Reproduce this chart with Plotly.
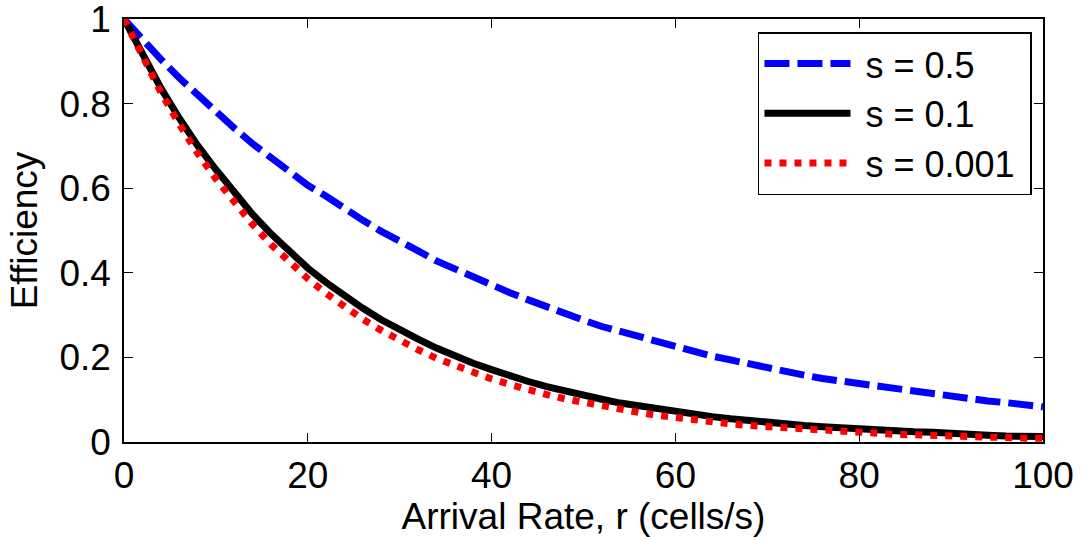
import plotly.graph_objects as go

r = list(range(0, 101, 2))

eff_s05 = [1.000, 0.951, 0.905, 0.861, 0.821, 0.779, 0.742, 0.705, 0.672, 0.638,
           0.607, 0.581, 0.551, 0.524, 0.498, 0.473, 0.452, 0.428, 0.409, 0.389,
           0.369, 0.353, 0.336, 0.319, 0.302, 0.288, 0.273, 0.261, 0.247, 0.235,
           0.225, 0.213, 0.203, 0.194, 0.184, 0.175, 0.167, 0.158, 0.150, 0.144,
           0.137, 0.131, 0.124, 0.118, 0.112, 0.106, 0.101, 0.097, 0.093, 0.088,
           0.083]

eff_s01 = [1.000, 0.914, 0.837, 0.766, 0.701, 0.644, 0.589, 0.538, 0.492, 0.450,
           0.411, 0.377, 0.345, 0.316, 0.289, 0.265, 0.243, 0.222, 0.203, 0.186,
           0.171, 0.156, 0.143, 0.131, 0.120, 0.110, 0.101, 0.092, 0.085, 0.078,
           0.071, 0.066, 0.060, 0.055, 0.050, 0.046, 0.042, 0.039, 0.036, 0.033,
           0.030, 0.028, 0.026, 0.024, 0.023, 0.022, 0.020, 0.016, 0.014, 0.013,
           0.013]

eff_s0001 = [1.000, 0.909, 0.827, 0.752, 0.683, 0.622, 0.565, 0.514, 0.467, 0.424,
             0.386, 0.351, 0.320, 0.290, 0.264, 0.240, 0.218, 0.198, 0.181, 0.164,
             0.149, 0.136, 0.123, 0.112, 0.102, 0.093, 0.084, 0.077, 0.070, 0.063,
             0.057, 0.052, 0.047, 0.043, 0.039, 0.036, 0.032, 0.029, 0.027, 0.024,
             0.022, 0.020, 0.018, 0.017, 0.015, 0.014, 0.013, 0.011, 0.010, 0.009,
             0.009]

labels = ["s = 0.5", "s = 0.1", "s = 0.001"]

FONT = "Arial, Liberation Sans, Helvetica, sans-serif"
PAD = "\u00a0"  # non-breaking spaces give the legend the reference's gaps


def legend_name(label):
    return PAD + label + PAD


fig = go.Figure()
fig.add_trace(go.Scatter(x=r, y=eff_s05, mode="lines", name=legend_name(labels[0]),
                         line=dict(color="#0000ff", width=7, dash="25px,8px")))
fig.add_trace(go.Scatter(x=r, y=eff_s01, mode="lines", name=legend_name(labels[1]),
                         line=dict(color="#000000", width=7)))
fig.add_trace(go.Scatter(x=r, y=eff_s0001, mode="lines", name=legend_name(labels[2]),
                         line=dict(color="#ff0000", width=7, dash="7px,8px")))

axis_common = dict(
    showgrid=False, zeroline=False, showline=True, linecolor="black", linewidth=1.5,
    mirror="ticks", ticks="inside", ticklen=9, tickwidth=1, tickcolor="black",
    tickfont=dict(family=FONT, size=37, color="black"),
    ticklabeloverflow="allow", automargin=False,
)

fig.update_xaxes(range=[0, 100], tickvals=[0, 20, 40, 60, 80, 100],
                 title=dict(text="Arrival Rate, r (cells/s)", font=dict(family=FONT, size=37, color="black"), standoff=0),
                 **axis_common)
fig.update_yaxes(range=[0, 1], tickvals=[0, 0.2, 0.4, 0.6, 0.8, 1], ticktext=["0", "0.2", "0.4", "0.6", "0.8", "1"],
                 title=dict(text="Efficiency", font=dict(family=FONT, size=37, color="black"), standoff=10),
                 ticklabelstandoff=4,
                 **axis_common)

fig.update_layout(
    width=1082, height=540,
    margin=dict(l=124, r=39, t=19, b=98),
    paper_bgcolor="white", plot_bgcolor="white",
    font=dict(family=FONT, size=37, color="black"),
    legend=dict(x=0.988, y=0.969, xanchor="right", yanchor="top",
                bgcolor="white", bordercolor="black", borderwidth=1.5,
                font=dict(family=FONT, size=36, color="black"),
                itemwidth=86, tracegroupgap=0),
    showlegend=True,
)

fig.write_html("out.html")
